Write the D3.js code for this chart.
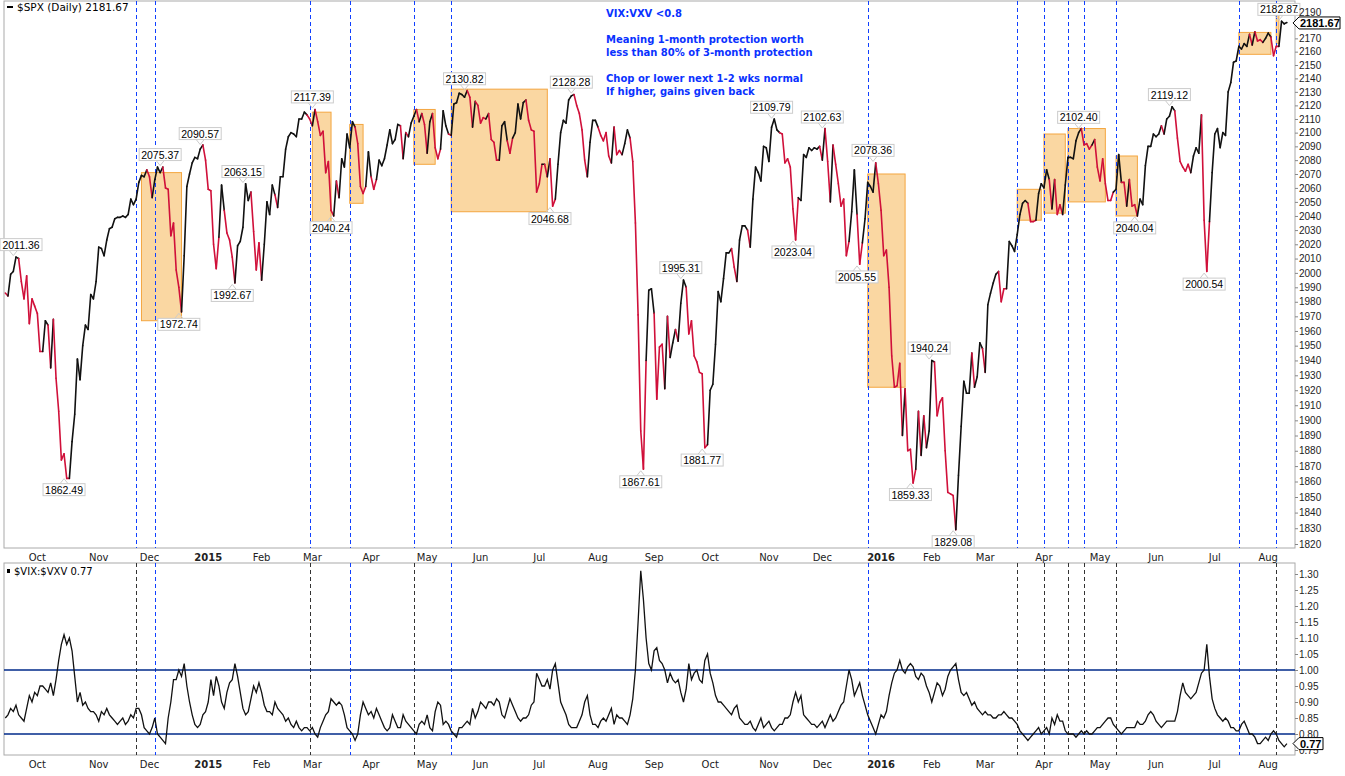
<!DOCTYPE html>
<html>
<head>
<meta charset="utf-8">
<script src="https://cdn.jsdelivr.net/npm/d3@7"></script>
<style>
  body { margin: 0; background: #fff; }
  text { font-family: "DejaVu Sans", sans-serif; }
</style>
</head>
<body>
<svg id="chart" width="1345" height="776"></svg>
<script>
// trading calendar
const startDate = '2014-09-12';
const endDate = '2016-08-09';
const holidays = ['2014-11-27', '2014-12-25', '2015-01-01', '2015-01-19', '2015-02-16', '2015-04-03',
  '2015-05-25', '2015-07-03', '2015-09-07', '2015-11-26', '2015-12-25', '2016-01-01', '2016-01-18',
  '2016-02-15', '2016-03-25', '2016-05-30', '2016-07-04'];

// $SPX daily closes, month by month
const spxClose = [
  1986, 1984, 1999, 2001, 2011, 2010, 1994, 1982, 1998, 1965, 1982, 1977, 1972,
  1946, 1946, 1967, 1964, 1935, 1968, 1928, 1906, 1874, 1878, 1862, 1862, 1886, 1904, 1941, 1927, 1950, 1964, 1961, 1985, 1982, 1994, 2018,
  2017, 2012, 2023, 2031, 2032, 2038, 2039, 2039, 2040, 2039, 2041, 2052, 2048, 2052, 2064, 2069, 2068, 2073, 2068,
  2053, 2066, 2075, 2071, 2075, 2060, 2059, 2026, 2035, 2002, 1990, 1973, 2012, 2061, 2070, 2078, 2082, 2081, 2088, 2091, 2080, 2059,
  2058, 2020, 2003, 2025, 2062, 2044, 2028, 2023, 2011, 1993, 2019, 2022, 2032, 2063, 2051, 2057, 2029, 2002, 2021, 1995,
  2020, 2050, 2041, 2062, 2055, 2046, 2068, 2068, 2088, 2097, 2100, 2099, 2097, 2110, 2110, 2115, 2113, 2110, 2105,
  2117, 2108, 2098, 2101, 2071, 2079, 2044, 2040, 2065, 2053, 2081, 2075, 2099, 2089, 2108, 2104, 2092, 2061, 2056, 2061, 2086, 2068,
  2059, 2066, 2080, 2076, 2081, 2091, 2102, 2092, 2095, 2106, 2105, 2081, 2100, 2097, 2107, 2112, 2117, 2108, 2114, 2106, 2085,
  2108, 2114, 2089, 2081, 2088, 2116, 2105, 2099, 2098, 2121, 2122, 2129, 2128, 2126, 2131, 2126, 2104, 2123, 2120, 2107,
  2111, 2110, 2114, 2095, 2093, 2080, 2080, 2105, 2108, 2094, 2085, 2096, 2100, 2121, 2110, 2122, 2124, 2109, 2102, 2101, 2057, 2063,
  2077, 2077, 2068, 2081, 2047, 2052, 2077, 2100, 2109, 2107, 2124, 2127, 2128, 2120, 2114, 2102, 2080, 2068, 2093, 2109, 2109, 2104,
  2098, 2094, 2100, 2083, 2078, 2104, 2084, 2087, 2084, 2092, 2102, 2096, 2079, 2035, 1971, 1893, 1868, 1940, 1988, 1989, 1972,
  1914, 1949, 1951, 1921, 1970, 1942, 1952, 1961, 1953, 1979, 1995, 1990, 1958, 1967, 1943, 1939, 1932, 1931, 1882, 1884, 1920,
  1924, 1951, 1987, 1980, 1996, 2014, 2014, 2017, 2004, 1994, 2023, 2033, 2033, 2030, 2018, 2052, 2075, 2071, 2065, 2090, 2089, 2079,
  2104, 2110, 2102, 2100, 2099, 2078, 2081, 2075, 2045, 2023, 2053, 2051, 2084, 2082, 2089, 2087, 2089, 2088, 2090, 2080,
  2103, 2079, 2050, 2091, 2077, 2063, 2047, 2052, 2012, 2022, 2043, 2073, 2041, 2006, 2021, 2038, 2064, 2061, 2057, 2078, 2063, 2044,
  2012, 2016, 1990, 1943, 1922, 1923, 1938, 1890, 1921, 1880, 1881, 1859, 1868, 1906, 1877, 1903, 1882, 1893, 1940,
  1939, 1903, 1912, 1915, 1880, 1853, 1852, 1851, 1829, 1864, 1896, 1926, 1918, 1918, 1945, 1922, 1929, 1952, 1948, 1932,
  1978, 1986, 1993, 1999, 2001, 1980, 1989, 1989, 2022, 2019, 2015, 2027, 2041, 2049, 2051, 2049, 2036, 2036, 2037, 2056, 2063, 2060,
  2073, 2066, 2045, 2066, 2041, 2048, 2041, 2062, 2082, 2082, 2081, 2094, 2100, 2103, 2091, 2092, 2088, 2091, 2095, 2075, 2065,
  2081, 2063, 2051, 2051, 2057, 2059, 2084, 2064, 2064, 2047, 2066, 2047, 2048, 2040, 2052, 2048, 2076, 2090, 2090, 2099, 2097,
  2099, 2105, 2099, 2110, 2112, 2119, 2116, 2096, 2079, 2075, 2072, 2077, 2071, 2083, 2089, 2085, 2113, 2037, 2001, 2036, 2071, 2099,
  2103, 2089, 2100, 2098, 2130, 2137, 2152, 2153, 2164, 2162, 2166, 2164, 2173, 2165, 2175, 2168, 2169, 2167, 2170, 2174,
  2171, 2157, 2164, 2164, 2183, 2181, 2182
];

// $VIX:$VXV ratio
const vixRatio = [
  .85, .86, .88, .87, .89, .86, .85, .84, .88, .92, .90, .93, .92,
  .95, .95, .94, .93, .96, .92, .97, 1.03, 1.08, 1.11, 1.08, 1.10, 1.06, .98, .90, .93, .89, .90, .88, .87, .87, .86, .84,
  .87, .86, .88, .86, .85, .84, .83, .84, .85, .83, .84, .86, .85, .88, .88, .86, .82, .81, .80,
  .82, .85, .80, .79, .78, .77, .85, .90, .97, .97, 1.00, .98, 1.02, .95, .90, .86, .83, .82, .83, .86, .87, .90,
  .97, .92, .98, .95, .90, .88, .93, .96, .97, 1.02, .98, .93, .88, .86, .87, .91, .95, .93, .96, .93,
  .89, .87, .87, .86, .90, .88, .87, .86, .84, .85, .83, .82, .84, .82, .81, .82, .82, .81, .82,
  .80, .79, .82, .84, .86, .87, .91, .90, .89, .90, .89, .86, .82, .81, .80, .78, .80, .86, .90, .88, .86, .87,
  .85, .88, .86, .84, .82, .81, .82, .86, .84, .82, .82, .86, .84, .83, .82, .81, .80, .83, .84, .83, .86,
  .82, .81, .87, .90, .89, .83, .84, .83, .81, .80, .79, .82, .82, .83, .84, .83, .88, .85, .87, .90,
  .89, .88, .90, .90, .89, .91, .90, .86, .85, .88, .91, .89, .87, .85, .84, .85, .85, .86, .89, .90, .99, .97,
  .95, .95, .97, .94, 1.00, 1.02, .96, .90, .88, .86, .83, .82, .82, .82, .84, .86, .90, .92, .86, .83, .83, .82,
  .84, .85, .84, .86, .88, .83, .86, .85, .85, .84, .83, .86, .91, 1.00, 1.15, 1.31, 1.22, 1.10, 1.02, 1.00, 1.06,
  1.07, 1.03, 1.02, 1.00, .96, .99, .97, .96, .97, .93, .90, .94, 1.02, .97, .99, 1.00, .97, .96, 1.03, 1.05, .99,
  .96, .92, .90, .90, .89, .88, .87, .86, .88, .89, .85, .84, .83, .83, .84, .82, .81, .83, .85, .82, .83, .84,
  .82, .81, .82, .83, .83, .85, .85, .86, .90, .93, .90, .92, .86, .85, .84, .83, .83, .82, .83, .84,
  .82, .84, .86, .84, .85, .87, .89, .90, .95, 1.00, .97, .92, .94, .96, .92, .89, .86, .84, .82, .80, .83, .86,
  .85, .87, .92, .96, .99, 1.00, 1.03, 1.00, .99, 1.01, 1.02, 1.01, .98, .97, .99, .98, .95, .93, .90,
  .93, .96, .95, .92, .94, .98, 1.00, 1.01, 1.02, .97, .93, .92, .93, .91, .89, .90, .88, .87, .86, .87,
  .86, .86, .85, .85, .86, .86, .87, .86, .85, .85, .84, .83, .81, .80, .79, .78, .79, .80, .81, .82, .80, .81,
  .82, .80, .85, .83, .86, .84, .84, .81, .80, .80, .80, .79, .80, .81, .80, .81, .80, .80, .81, .82, .82,
  .83, .84, .85, .85, .83, .82, .81, .80, .81, .82, .82, .82, .82, .84, .83, .83, .84, .86, .87, .86, .84,
  .83, .82, .83, .84, .84, .84, .84, .87, .92, .96, .93, .92, .91, .92, .93, .96, .99, 1.00, 1.08, .98, .91, .88,
  .86, .85, .84, .85, .84, .82, .82, .81, .81, .83, .84, .82, .80, .80, .79, .77, .77, .78, .79, .78,
  .80, .81, .80, .78, .77, .76, .77
];

const spxTicks = d3.range(1820, 2191, 10);
const vixTicks = [0.75, 0.80, 0.85, 0.90, 0.95, 1.00, 1.05, 1.10, 1.15, 1.20, 1.25, 1.30];
const vixLevels = [0.80, 1.00];

// swing labels: date, value, position
const peakLabels = [
  ['2014-09-18', '2011.36', 'up'], ['2014-10-15', '1862.49', 'down'], ['2014-12-05', '2075.37', 'up'],
  ['2014-12-16', '1972.74', 'down'], ['2014-12-29', '2090.57', 'up'], ['2015-01-22', '2063.15', 'up'],
  ['2015-01-15', '1992.67', 'down'], ['2015-03-02', '2117.39', 'up'], ['2015-03-11', '2040.24', 'down'],
  ['2015-05-21', '2130.82', 'up'], ['2015-07-08', '2046.68', 'down'], ['2015-07-20', '2128.28', 'up'],
  ['2015-08-25', '1867.61', 'down'], ['2015-09-16', '1995.31', 'up'], ['2015-09-28', '1881.77', 'down'],
  ['2015-11-03', '2109.79', 'up'], ['2015-11-13', '2023.04', 'down'], ['2015-12-01', '2102.63', 'up'],
  ['2015-12-18', '2005.55', 'down'], ['2015-12-29', '2078.36', 'up'], ['2016-01-20', '1859.33', 'down'],
  ['2016-01-29', '1940.24', 'up'], ['2016-02-11', '1829.08', 'down'], ['2016-04-20', '2102.40', 'up'],
  ['2016-05-19', '2040.04', 'down'], ['2016-06-08', '2119.12', 'up'], ['2016-06-27', '2000.54', 'down'],
  ['2016-08-05', '2182.87', 'up']
];

// shaded zones: start, end, low, high
const zones = [
  ['2014-11-25', '2014-12-17', 1967, 2071], ['2015-03-02', '2015-03-11', 2029, 2115],
  ['2015-03-20', '2015-03-27', 2049, 2106], ['2015-04-24', '2015-05-06', 2077, 2117],
  ['2015-05-14', '2015-07-07', 2043, 2132], ['2015-12-24', '2016-01-15', 1922, 2070],
  ['2016-03-17', '2016-03-31', 2037, 2059], ['2016-04-01', '2016-04-13', 2042, 2099],
  ['2016-04-14', '2016-05-04', 2050, 2103], ['2016-05-10', '2016-05-20', 2040, 2083],
  ['2016-07-15', '2016-08-02', 2158, 2174.5], ['2016-08-04', '2016-08-05', 2166, 2188.5]
];

// signal dates; 'b' = blue in lower panel as well
const signalDates = [
  ['2014-11-21', 'k'], ['2014-12-03', 'b'], ['2015-02-27', 'k'], ['2015-03-20', 'b'], ['2015-04-24', 'k'],
  ['2015-05-14', 'b'], ['2015-12-24', 'b'], ['2016-03-17', 'k'], ['2016-04-01', 'k'], ['2016-04-14', 'k'],
  ['2016-04-22', 'k'], ['2016-05-10', 'k'], ['2016-07-15', 'b'], ['2016-08-04', 'k']
];

const noteLines = ['VIX:VXV <0.8', '', 'Meaning 1-month protection worth', 'less than 80% of 3-month protection',
  '', 'Chop or lower next 1-2 wks normal', 'If higher, gains given back'];

// build trading days
const fmt = d3.timeFormat('%Y-%m-%d');
const days = d3.timeDay.range(new Date(startDate + 'T12:00'), d3.timeDay.offset(new Date(endDate + 'T12:00'), 1))
  .filter(d => d.getDay() !== 0 && d.getDay() !== 6 && !holidays.includes(fmt(d)));
const n = Math.min(days.length, spxClose.length, vixRatio.length);
const idxOf = {};
days.forEach((d, i) => { idxOf[fmt(d)] = i; });

const svg = d3.select('#chart');
const L = 4, R = 1295;
const topP = { y0: 1, y1: 548 };
const botP = { y0: 563, y1: 755 };

const x = d3.scaleLinear().domain([0, n - 1]).range([5.3, 5.3 + 2.67 * (n - 1)]);
const y = d3.scaleLog().domain([1820, 2190]).range([544, 12]);
const yv = d3.scaleLinear().domain([0.80, 1.30]).range([734, 574]);

// panel frames
[topP, botP].forEach(p => {
  svg.append('rect').attr('x', L).attr('y', p.y0).attr('width', R - L).attr('height', p.y1 - p.y0)
    .attr('fill', 'none').attr('stroke', '#aaa');
});

// zones
svg.append('g').selectAll('rect').data(zones).join('rect')
  .attr('x', d => x(idxOf[d[0]]))
  .attr('width', d => x(idxOf[d[1]]) - x(idxOf[d[0]]))
  .attr('y', d => y(d[3]))
  .attr('height', d => y(d[2]) - y(d[3]))
  .attr('fill', 'rgba(245,176,70,0.5)').attr('stroke', '#f4a640').attr('stroke-width', 1);

// signal lines
signalDates.forEach(([dt, c]) => {
  const xx = Math.round(x(idxOf[dt])) + 0.5;
  svg.append('line').attr('x1', xx).attr('x2', xx).attr('y1', topP.y0).attr('y2', topP.y1)
    .attr('stroke', '#1040ff').attr('stroke-dasharray', '4,3');
  svg.append('line').attr('x1', xx).attr('x2', xx).attr('y1', botP.y0).attr('y2', botP.y1)
    .attr('stroke', c === 'b' ? '#1040ff' : '#333').attr('stroke-dasharray', '4,3');
});

// price line, red while below its 5-day average
const spx = spxClose.slice(0, n);
const lineG = svg.append('g').attr('fill', 'none').attr('stroke-width', 1.6);
for (let i = 1; i < n; i++) {
  const avg = d3.mean(spx.slice(Math.max(0, i - 4), i + 1));
  lineG.append('line')
    .attr('x1', x(i - 1)).attr('y1', y(spx[i - 1])).attr('x2', x(i)).attr('y2', y(spx[i]))
    .attr('stroke', spx[i] < avg ? '#d0103a' : '#111').attr('stroke-linecap', 'round');
}

// swing labels
const lab = svg.append('g');
peakLabels.forEach(([dt, txt, pos]) => {
  const i = idxOf[dt];
  const px = x(i), py = y(+txt);
  const w = 42, h = 12;
  const bx = Math.max(0, px - w / 2);
  const by = pos === 'up' ? py - 6 - h : py + 6;
  lab.append('path')
    .attr('d', pos === 'up' ? `M${px - 4},${py - 6} L${px},${py - 1} L${px + 4},${py - 6}` : `M${px - 4},${py + 6} L${px},${py + 1} L${px + 4},${py + 6}`)
    .attr('fill', 'none').attr('stroke', '#ccc');
  lab.append('rect').attr('x', bx).attr('y', by).attr('width', w).attr('height', h)
    .attr('fill', '#fff').attr('stroke', '#ccc');
  lab.append('text').attr('x', bx + w / 2).attr('y', by + 10).attr('text-anchor', 'middle')
    .style('font-family', '"Liberation Sans", sans-serif')
    .attr('font-size', 10.5).attr('fill', '#000').text(txt);
});

// notes
svg.append('g').selectAll('text').data(noteLines).join('text')
  .attr('x', 606).attr('y', (d, i) => 17 + i * 13)
  .attr('font-size', 10).attr('font-weight', 'bold').attr('fill', '#0a32ff').text(d => d);

// right axes
const axTop = svg.append('g').attr('transform', `translate(${R},0)`)
  .call(d3.axisRight(y).tickValues(spxTicks).tickFormat(d3.format('d')).tickSize(3));
const axBot = svg.append('g').attr('transform', `translate(${R},0)`)
  .call(d3.axisRight(yv).tickValues(vixTicks).tickFormat(d3.format('.2f')).tickSize(3));
[axTop, axBot].forEach(a => {
  a.select('.domain').remove();
  a.selectAll('text').attr('font-size', 10).attr('fill', '#222').attr('x', 4)
    .style('font-family', '"Liberation Sans", sans-serif');
  a.selectAll('line').attr('stroke', '#888');
});

// last value tags
function tag(yy, txt, w) {
  const g = svg.append('g');
  g.append('path').attr('d', `M${R - 2},${yy} L${R + 4},${yy - 6} L${R + 4 + w},${yy - 6} L${R + 4 + w},${yy + 6} L${R + 4},${yy + 6} Z`)
    .attr('fill', '#fff').attr('stroke', '#000');
  g.append('text').attr('x', R + 5).attr('y', yy + 4).attr('font-size', 11).attr('font-weight', 'bold')
    .style('font-family', '"Liberation Sans", sans-serif').text(txt);
}
tag(y(2181.67), '2181.67', 41);
tag(yv(0.77), '0.77', 24);

// VIX:VXV levels and line
vixLevels.forEach(v => {
  svg.append('line').attr('x1', L).attr('x2', R).attr('y1', yv(v)).attr('y2', yv(v))
    .attr('stroke', '#002a8a').attr('stroke-width', 1.4);
});
svg.append('path').datum(vixRatio.slice(0, n))
  .attr('fill', 'none').attr('stroke', '#111').attr('stroke-width', 1.3)
  .attr('d', d3.line().x((d, i) => x(i)).y(d => yv(d)));

// month labels
const monthIdx = [];
for (let i = 1; i < n; i++) if (days[i].getMonth() !== days[i - 1].getMonth()) monthIdx.push(i);
[topP.y1 + 13, botP.y1 + 13].forEach(yy => {
  monthIdx.forEach(i => {
    const d = days[i];
    const isYear = d.getMonth() === 0;
    svg.append('text').attr('x', x(i)).attr('y', yy).attr('text-anchor', 'middle')
      .attr('font-size', 10).attr('font-weight', isYear ? 'bold' : 'normal').attr('fill', '#222')
      .text(isYear ? d.getFullYear() : d3.timeFormat('%b')(d));
  });
});

// panel titles
svg.append('line').attr('x1', 7).attr('x2', 13).attr('y1', 7).attr('y2', 7).attr('stroke', '#000').attr('stroke-width', 2);
svg.append('text').attr('x', 17).attr('y', 11).attr('font-size', 10.5).text('$SPX (Daily) 2181.67');
svg.append('rect').attr('x', 7).attr('y', 569).attr('width', 3).attr('height', 4).attr('fill', '#000');
svg.append('text').attr('x', 14).attr('y', 575).attr('font-size', 10).text('$VIX:$VXV 0.77');
</script>
</body>
</html>
